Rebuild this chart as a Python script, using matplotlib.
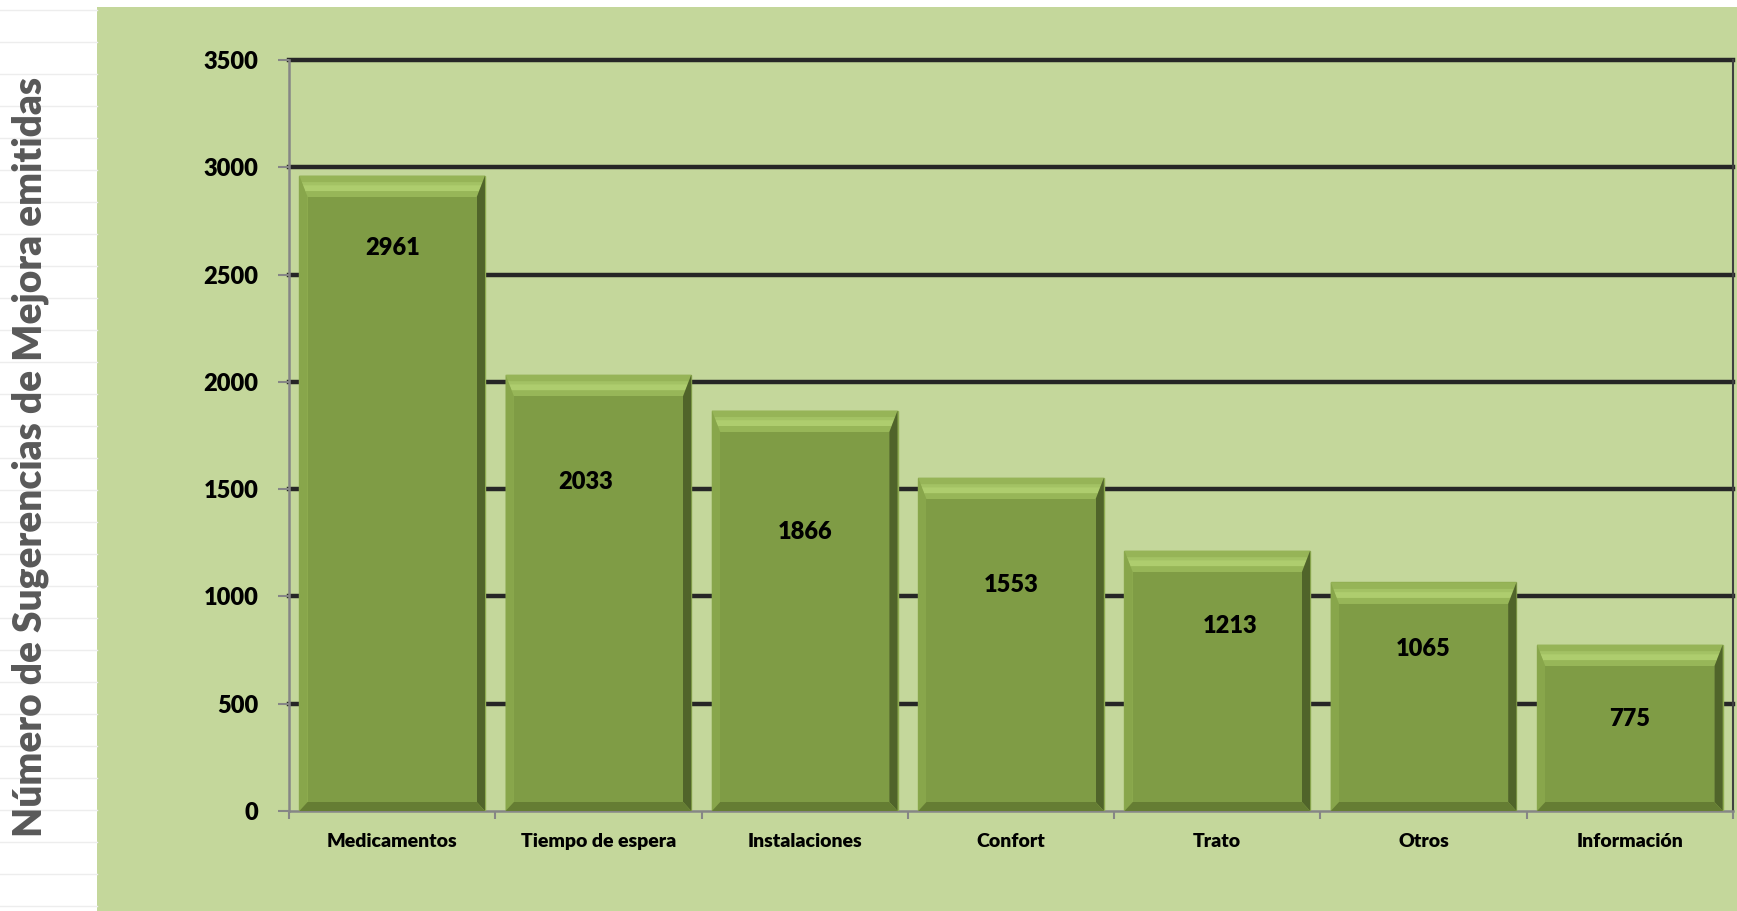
import matplotlib
matplotlib.use('Agg')
import matplotlib.pyplot as plt
from matplotlib.patches import Rectangle, Polygon
from matplotlib.lines import Line2D

# Data
categories = ['Medicamentos', 'Tiempo de espera', 'Instalaciones', 'Confort',
              'Trato', 'Otros', 'Información']
values = [2961, 2033, 1866, 1553, 1213, 1065, 775]
y_ticks = [0, 500, 1000, 1500, 2000, 2500, 3000, 3500]
y_label = 'Número de Sugerencias de Mejora emitidas'

# where the value labels sit (hand placed in the original)
label_y = [2625, 1535, 1300, 1055, 860, 755, 430]
label_dx = [0, -0.06, 0, 0, 0.06, 0, 0]

PANEL = '#C4D79B'
FACE = '#7F9C45'
FONT = 'Lato'
WEIGHT = 'heavy'


def bevel_bar(ax, xc, h, width=0.9, sx=0.04, top=100, bot=42):
    x0, x1 = xc - width / 2, xc + width / 2
    ix0, ix1 = x0 + sx, x1 - sx
    itop = max(h - top, bot + 10)
    ax.add_patch(Rectangle((x0, 0), width, h, facecolor='#94B254',
                           edgecolor='#8EAC50', lw=1, zorder=3))
    # top bevel: outer light band, then a highlight that fades into the face
    ax.add_patch(Polygon([(x0, h), (x1, h), (ix1, itop), (ix0, itop)],
                         facecolor='#96B457', edgecolor='none', zorder=4))
    steps = [('#A3C264', 0.30, 0.55), ('#AECD6E', 0.45, 0.75), ('#97B658', 0.72, 1.0)]
    for col, a, b in steps:
        ya, yb = h - top * a, h - top * b
        fa, fb = sx * a, sx * b
        ax.add_patch(Polygon([(x0 + fa, ya), (x1 - fa, ya), (x1 - fb, yb), (x0 + fb, yb)],
                             facecolor=col, edgecolor='none', zorder=4))
    ax.add_patch(Polygon([(x0, h), (ix0, itop), (ix0, bot), (x0, 0)],
                         facecolor='#88A64B', edgecolor='none', zorder=4))
    ax.add_patch(Polygon([(x1, h), (ix1, itop), (ix1, bot), (x1, 0)],
                         facecolor='#50642A', edgecolor='none', zorder=4))
    ax.add_patch(Polygon([(x0, 0), (x1, 0), (ix1, bot), (ix0, bot)],
                         facecolor='#657D33', edgecolor='none', zorder=4))
    ax.add_patch(Rectangle((ix0, bot), ix1 - ix0, itop - bot,
                           facecolor=FACE, edgecolor='none', zorder=5))


def main():
    fig = plt.figure(figsize=(17.37, 9.11), dpi=100)
    fig.patch.set_facecolor('white')

    # faint spreadsheet cell lines on the left strip
    for k in range(29):
        yy = 1 - (10 + 32 * k) / 911
        fig.add_artist(Line2D([0, 97 / 1737], [yy, yy], color='#EDEDED', lw=1))

    # green chart panel
    fig.add_artist(Rectangle((97 / 1737, 0), 1 - 97 / 1737, 1 - 7 / 911,
                             transform=fig.transFigure, facecolor=PANEL,
                             edgecolor='none', zorder=0))

    ax = fig.add_axes([289 / 1737, 100 / 911, 1444 / 1737, 751 / 911])
    ax.set_facecolor(PANEL)
    ax.set_xlim(-0.5, len(categories) - 0.5)
    ax.set_ylim(0, 3500)

    for t in y_ticks[1:]:
        ax.axhline(t, color='#262626', lw=3.2, zorder=1, clip_on=False)

    for i, v in enumerate(values):
        bevel_bar(ax, i, v)
        ax.text(i + label_dx[i], label_y[i], str(v), ha='center', va='center',
                fontsize=17, fontweight=WEIGHT, family=FONT, color='black', zorder=6)

    ax.set_yticks(y_ticks)
    ax.set_yticklabels([str(t) for t in y_ticks], fontsize=17, fontweight=WEIGHT,
                       family=FONT)
    ax.set_xticks(range(len(categories)))
    ax.set_xticklabels(categories, fontsize=14, fontweight=WEIGHT, family=FONT)
    ax.set_xticks([i - 0.5 for i in range(len(categories) + 1)], minor=True)
    ax.tick_params(axis='y', length=8, width=1.5, color='#868686', pad=14)
    ax.tick_params(axis='x', which='major', length=0, pad=16)
    ax.tick_params(axis='x', which='minor', length=6, width=1.5, color='#868686')

    for s in ['left', 'bottom']:
        ax.spines[s].set_color('#868686')
        ax.spines[s].set_linewidth(1.8)
    ax.spines['top'].set_visible(False)
    ax.spines['right'].set_color('#404040')
    ax.spines['right'].set_linewidth(1.5)

    fig.text(30 / 1737, 1 - 457 / 911, y_label, rotation=90, ha='center',
             va='center', fontsize=28, fontweight=WEIGHT, family=FONT,
             color='#595959')

    fig.savefig('out.png', dpi=100, facecolor=fig.get_facecolor())
    print('Plot saved to out.png')


if __name__ == '__main__':
    main()
